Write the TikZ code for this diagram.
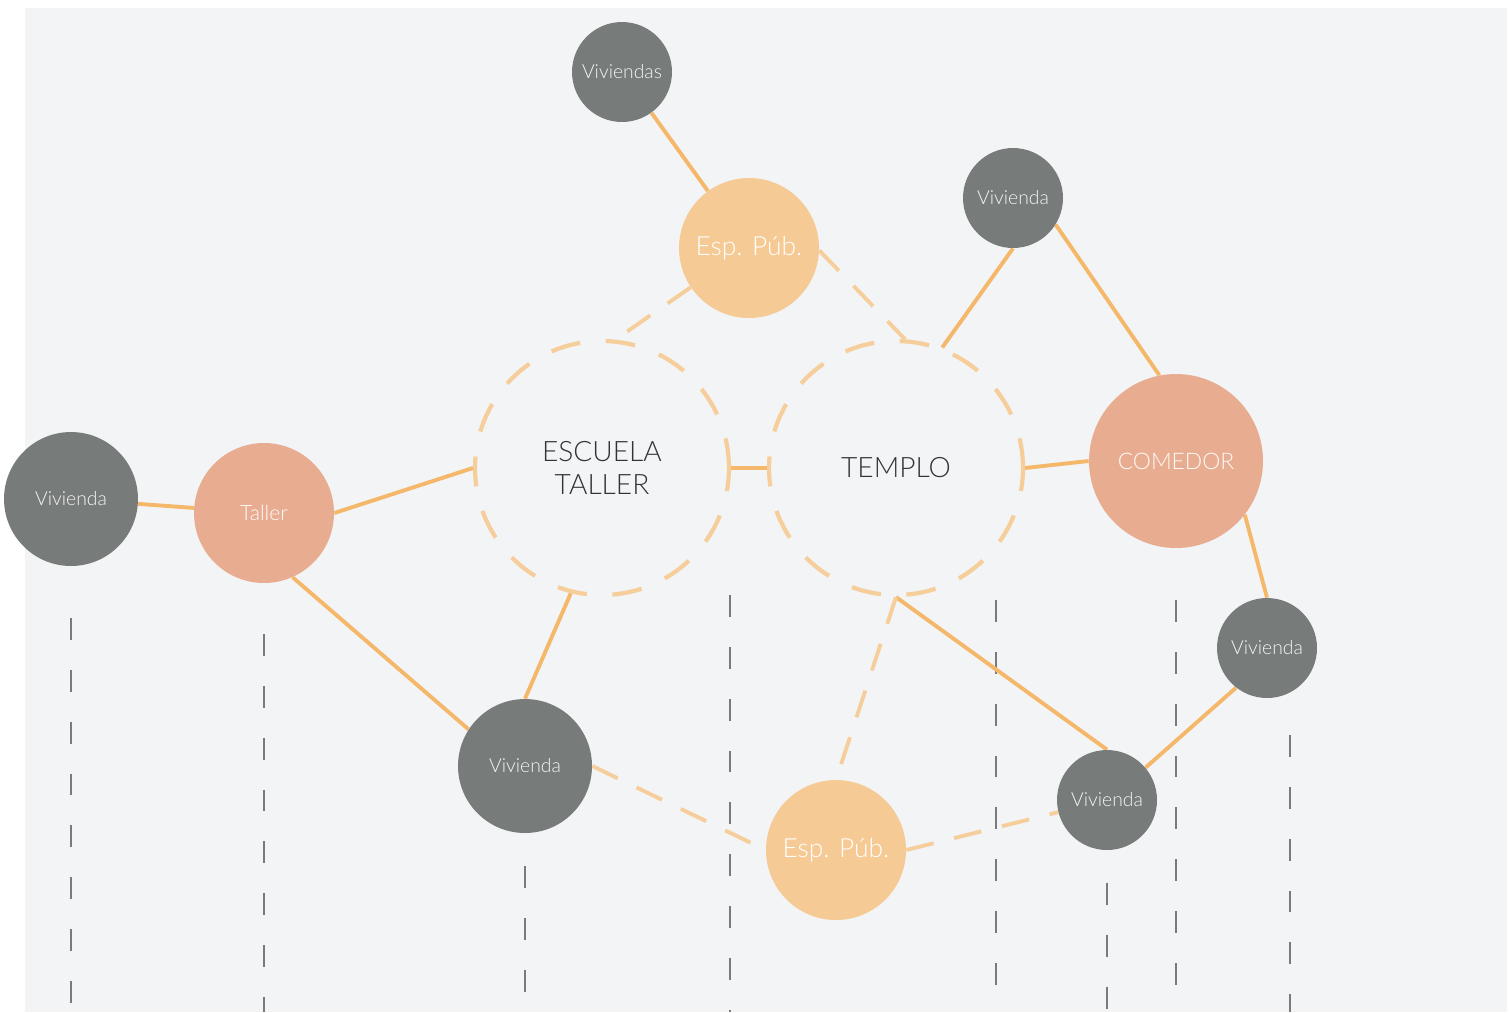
\documentclass[tikz,border=0pt]{standalone}
\usepackage{fontspec}
\setmainfont{Lato Light}
\usetikzlibrary{positioning,backgrounds}
\definecolor{paperbg}{RGB}{243,244,246}
\definecolor{slategray}{RGB}{119,124,122}
\definecolor{softpeach}{RGB}{246,202,148}
\definecolor{salmonpink}{RGB}{232,172,144}
\definecolor{linkorange}{RGB}{245,183,106}
\definecolor{linklight}{RGB}{246,206,155}
\definecolor{markgray}{RGB}{122,122,122}
\tikzset{
  housenode/.style={circle, fill=slategray, text=white!92!slategray, inner sep=0pt, font=\fontsize{11}{13}\selectfont},
  publicnode/.style={circle, fill=softpeach, text=white, inner sep=0pt, minimum size=2.8cm, font=\fontsize{15}{17}\selectfont},
  servicenode/.style={circle, fill=salmonpink, text=white!94!salmonpink, inner sep=0pt},
  hubnode/.style={circle, draw=linklight, line width=2.4pt, dash pattern=on 17pt off 14.5pt, minimum size=5.08cm, text=black!80, align=center, font=\fontsize{16}{19}\selectfont},
  solidlink/.style={draw=linkorange, line width=2.2pt},
  dashlink/.style={draw=linklight, line width=2.2pt, dash pattern=on 16pt off 12pt},
  plotline/.style={draw=markgray, line width=1.3pt, dash pattern=on 12.5pt off 17pt}
}
\begin{document}
\begin{tikzpicture}[x=0.02cm, y=-0.02cm]
\useasboundingbox (0,0) rectangle (1510,1012);

% hubs
\node[hubnode] (escuela) at (602,468) {ESCUELA\\TALLER};
\node[hubnode] (templo) at (896,468) {TEMPLO};

% public spaces and services
\node[publicnode] (pubtop) at (749,248) {Esp. Púb.};
\node[publicnode] (pubbot) at (836,850) {Esp. Púb.};
\node[servicenode, minimum size=3.48cm, font=\fontsize{13}{15}\selectfont] (comedor) at (1176,461) {COMEDOR};
\node[servicenode, minimum size=2.8cm, font=\fontsize{12}{14}\selectfont] (taller) at (264,513) {Taller};

% housing
\node[housenode, minimum size=2cm] (vivtop) at (622,72) {Viviendas};
\node[housenode, minimum size=2cm] (vivne) at (1013,198) {Vivienda};
\node[housenode, minimum size=2.68cm] (vivwest) at (71,499) {Vivienda};
\node[housenode, minimum size=2.68cm] (vivmid) at (525,766) {Vivienda};
\node[housenode, minimum size=2cm] (vivse) at (1107,800) {Vivienda};
\node[housenode, minimum size=2cm] (viveast) at (1267,648) {Vivienda};

\begin{pgfonlayer}{background}
\fill[paperbg] (25,8) rectangle (1507,1012);

% vertical markers
\foreach \xx/\ya/\yb in {71/618/1012, 264/634/1012, 525/866/1000, 730/595/1012,
                         996/600/990, 1107/883/1012, 1176/600/990, 1290/735/1012}
  \draw[plotline] (\xx,\ya) -- (\xx,\yb);

% solid links
\draw[solidlink] (vivtop) -- (pubtop);
\draw[solidlink] (vivwest) -- (taller);
\draw[solidlink] (taller.east) -- (escuela.west);
\draw[solidlink] (taller.-66) -- (vivmid.147);
\draw[solidlink] (escuela.-104) -- (vivmid.north);
\draw[solidlink] (escuela.east) -- (templo.west);
\draw[solidlink] (templo.69) -- (vivne.south);
\draw[solidlink] (vivne.-32) -- (comedor.101);
\draw[solidlink] (templo.east) -- (comedor.west);
\draw[solidlink] (comedor.-38) -- (viveast.north);
\draw[solidlink] (viveast.-128) -- (vivse.40);
\draw[solidlink] (templo.south) -- (vivse.north);

% dashed links
\draw[dashlink] (pubtop.-146) -- (escuela.84);
\draw[dashlink] (pubtop.-2) -- (templo.86);
\draw[dashlink] (vivmid.east) -- (pubbot.west);
\draw[dashlink] (templo.south) -- (pubbot.north);
\draw[dashlink] (pubbot.east) -- (vivse.-166);
\end{pgfonlayer}
\end{tikzpicture}
\end{document}
